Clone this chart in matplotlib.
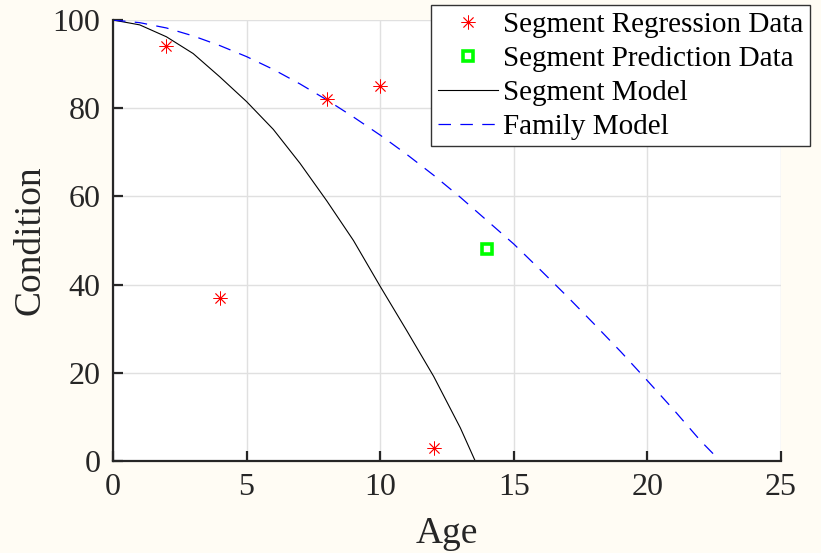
import matplotlib.pyplot as plt

# --- dados ---
idade_modelo = [0, 1, 2, 3, 4, 5, 6, 7, 8, 9, 10, 11, 12, 13, 14]
segmento_modelo = [100, 98.9, 96.2, 92.4, 87.1, 81.5, 75.2, 67.5, 59.0, 50.0, 39.6, 29.5, 19.2, 7.5, -6.0]

idade_familia = [0, 1, 2, 3, 4, 5, 6, 7, 8, 9, 10, 11, 12, 13, 14, 15, 16, 17, 18, 19, 20, 21, 22, 22.5]
familia_modelo = [100, 99.4, 98.2, 96.4, 94.2, 91.7, 88.8, 85.5, 81.9, 78.0, 73.9, 69.5, 64.8,
                  59.8, 54.5, 49.2, 43.3, 37.3, 31.1, 24.8, 18.2, 11.5, 4.5, 1.4]

idade_regressao = [2, 4, 8, 10, 12]
cond_regressao = [94, 37, 82, 85, 3]

idade_predicao = [14]
cond_predicao = [48]

x_ticks = [0, 5, 10, 15, 20, 25]
y_ticks = [0, 20, 40, 60, 80, 100]

# --- estilo ---
plt.rcParams['font.family'] = ['Liberation Serif', 'DejaVu Serif']
COR_TEXTO = '#262626'

fig = plt.figure(figsize=(8.21, 5.53), dpi=100, facecolor='#fffcf4')
ax = fig.add_axes([0.1376, 0.1664, 0.8137, 0.7974])
ax.set_facecolor('white')

ax.plot(idade_regressao, cond_regressao, linestyle='none', marker=(8, 2, 0),
        color='red', markersize=10, markeredgewidth=0.6, zorder=4,
        label='Segment Regression Data')
ax.plot(idade_predicao, cond_predicao, linestyle='none', marker='s',
        markerfacecolor='white', markeredgecolor='#00ff00', markersize=7,
        markeredgewidth=2.6, zorder=4, label='Segment Prediction Data')
ax.plot(idade_modelo, segmento_modelo, color='black', linewidth=0.8, label='Segment Model')
ax.plot(idade_familia, familia_modelo, color='blue', linewidth=0.9,
        dashes=(10, 7.5), label='Family Model')

ax.set_xlim(0, 25)
ax.set_ylim(0, 100)
ax.set_xticks(x_ticks)
ax.set_yticks(y_ticks)

ax.spines['top'].set_visible(False)
ax.spines['right'].set_visible(False)
for s in ['left', 'bottom']:
    ax.spines[s].set_linewidth(1.6)
    ax.spines[s].set_color(COR_TEXTO)
ax.tick_params(direction='in', length=7, width=1.6, colors=COR_TEXTO,
               labelsize=23, pad=9, labelcolor=COR_TEXTO)
ax.grid(True, color='#e0e0e0', linewidth=1.0)
ax.set_axisbelow(True)

ax.set_xlabel('Age', fontsize=27, color=COR_TEXTO, labelpad=10)
ax.set_ylabel('Condition', fontsize=27, color=COR_TEXTO, labelpad=4)

leg = ax.legend(loc='upper right', bbox_to_anchor=(810 / 821, 1 - 5 / 553),
                bbox_transform=fig.transFigure, borderaxespad=0, fontsize=21,
                fancybox=False, framealpha=1, edgecolor='#333333',
                handlelength=2.07, handletextpad=0.17, labelspacing=0.26,
                borderpad=0.22, numpoints=1)
leg.get_frame().set_linewidth(1.0)

fig.savefig('out.png', dpi=100, facecolor=fig.get_facecolor())
